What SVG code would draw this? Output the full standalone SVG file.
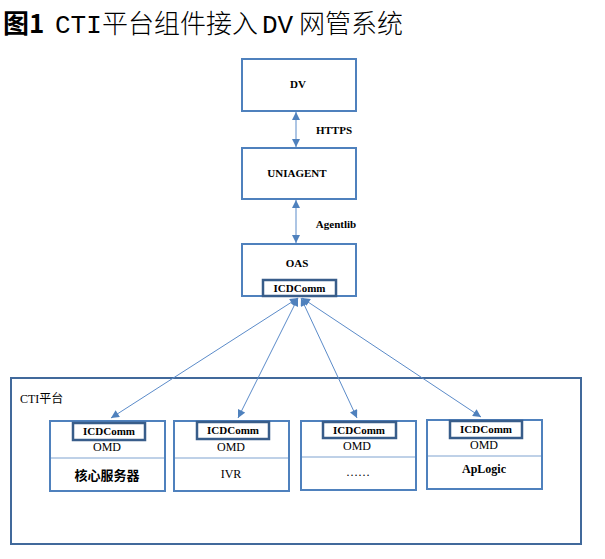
<svg xmlns="http://www.w3.org/2000/svg" width="605" height="559" viewBox="0 0 605 559">
<style>
.box{fill:#fff;stroke:#4F81BD;stroke-width:2}
.inner{fill:#fff;stroke:#385D8A;stroke-width:2.5}
.outer{fill:none;stroke:#41699B;stroke-width:2}
.div{stroke:#7FA3D0;stroke-width:1}
.t{font-family:'Liberation Serif','DejaVu Serif','Noto Sans CJK SC',serif;font-size:11px;fill:#000;text-anchor:middle}
.b{font-weight:bold}
.conn line{stroke:#5B8BC9;stroke-width:1;marker-start:url(#ah);marker-end:url(#ah)}
</style>
<defs>
<marker id="ah" viewBox="0 0 10 10" refX="10" refY="5" markerWidth="9" markerHeight="8" markerUnits="userSpaceOnUse" orient="auto-start-reverse">
<path d="M0,0 L10,5 L0,10 z" fill="#4F81BD"/>
</marker>
</defs>
<rect width="605" height="559" fill="#fff"/>
<text x="3" y="33" font-family="'Noto Sans CJK SC',sans-serif" font-size="26" font-weight="300" fill="#000"><tspan font-weight="bold">图1</tspan><tspan font-family="'Liberation Mono','Noto Sans CJK SC',monospace" x="55" font-size="26" font-weight="normal">CTI</tspan><tspan x="102">平台组件接入</tspan><tspan font-family="'Liberation Mono','Noto Sans CJK SC',monospace" x="262" font-size="26" font-weight="normal">DV</tspan><tspan x="299">网管系统</tspan></text>

<g id="cti">
<rect class="outer" x="11" y="378" width="570" height="166"/>
<text class="t" x="20" y="403" style="text-anchor:start;font-size:12px">CTI平台</text>
</g>

<g id="dv">
<rect class="box" x="242" y="59" width="114" height="52"/>
<text class="t b" x="298" y="88">DV</text>
</g>
<g id="uniagent">
<rect class="box" x="242" y="148" width="114" height="51"/>
<text class="t b" x="297" y="177">UNIAGENT</text>
</g>
<g id="oas">
<rect class="box" x="242" y="244" width="114" height="52"/>
<text class="t b" x="297" y="267">OAS</text>
<rect class="inner" x="263" y="280" width="73" height="16"/>
<text class="t b" x="299.5" y="292">ICDComm</text>
</g>

<g id="core">
<rect class="box" x="50" y="421" width="115" height="70"/>
<line class="div" x1="51" y1="458" x2="164" y2="458"/>
<rect class="inner" x="73" y="423" width="72" height="17"/>
<text class="t b" x="109" y="435">ICDComm</text>
<text class="t" x="107" y="451" style="font-size:12px">OMD</text>
<text class="t b" x="107" y="480" style="font-size:13px">核心服务器</text>
</g>
<g id="ivr">
<rect class="box" x="174" y="421" width="115" height="70"/>
<line class="div" x1="175" y1="458" x2="288" y2="458"/>
<rect class="inner" x="197" y="422" width="72" height="17"/>
<text class="t b" x="233" y="434">ICDComm</text>
<text class="t" x="231" y="451" style="font-size:12px">OMD</text>
<text class="t" x="231" y="478" style="font-size:12px">IVR</text>
</g>
<g id="more">
<rect class="box" x="301" y="421" width="115" height="69"/>
<line class="div" x1="302" y1="457" x2="415" y2="457"/>
<rect class="inner" x="323" y="422" width="73" height="16"/>
<text class="t b" x="359" y="434">ICDComm</text>
<text class="t" x="357" y="450" style="font-size:12px">OMD</text>
<text class="t" x="358" y="476" style="font-size:12px">……</text>
</g>
<g id="aplogic">
<rect class="box" x="427" y="420" width="115" height="69"/>
<line class="div" x1="428" y1="456" x2="541" y2="456"/>
<rect class="inner" x="450" y="421" width="72" height="17"/>
<text class="t b" x="486" y="433">ICDComm</text>
<text class="t" x="484" y="449" style="font-size:12px">OMD</text>
<text class="t b" x="484" y="473" style="font-size:12px">ApLogic</text>
</g>

<g class="conn" id="connectors">
<line x1="296" y1="112" x2="296" y2="147"/>
<line x1="296" y1="200" x2="296" y2="243"/>
<line x1="298" y1="298" x2="111" y2="418"/>
<line x1="298" y1="298" x2="238" y2="418"/>
<line x1="301" y1="298" x2="357" y2="418"/>
<line x1="302" y1="298" x2="481" y2="417"/>
</g>
<text class="t b" x="334" y="134">HTTPS</text>
<text class="t b" x="336" y="228">Agentlib</text>
</svg>
